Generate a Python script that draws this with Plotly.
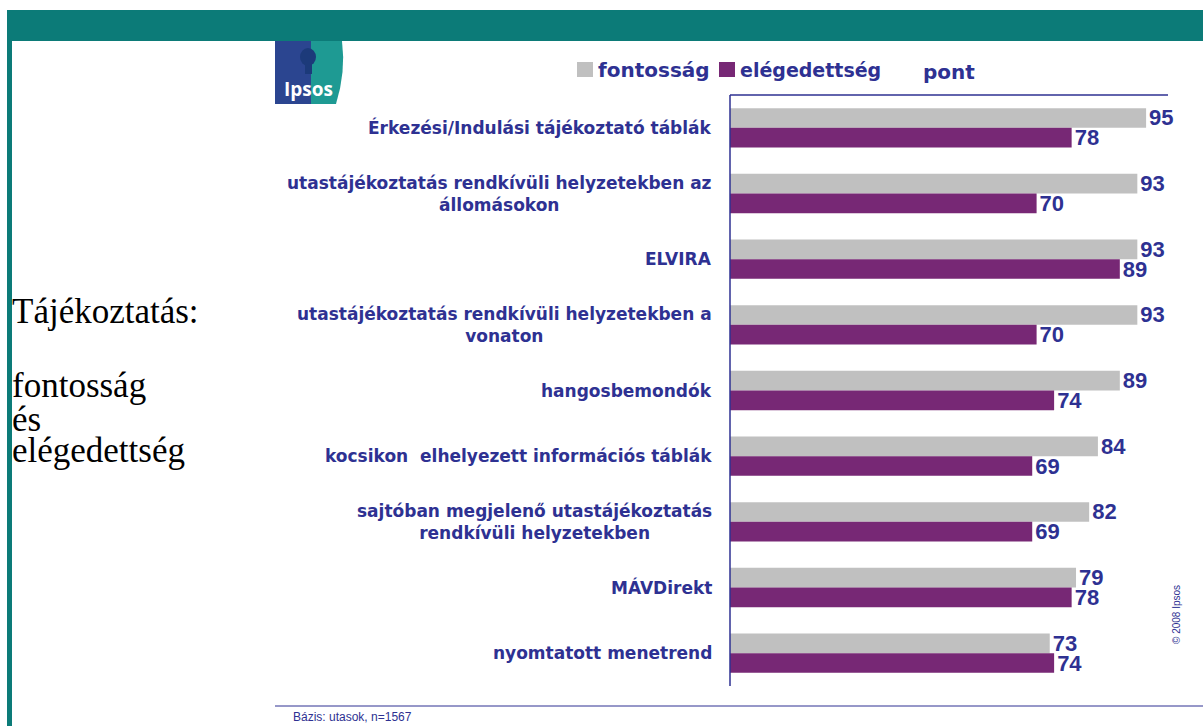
import plotly.graph_objects as go

categories = [
    "Érkezési/Indulási tájékoztató táblák",
    "utastájékoztatás rendkívüli helyzetekben az<br>állomásokon",
    "ELVIRA",
    "utastájékoztatás rendkívüli helyzetekben a<br>vonaton",
    "hangosbemondók",
    "kocsikon  elhelyezett információs táblák",
    "sajtóban megjelenő utastájékoztatás<br>rendkívüli helyzetekben",
    "MÁVDirekt",
    "nyomtatott menetrend",
]
fontossag = [95, 93, 93, 93, 89, 84, 82, 79, 73]
elegedettseg = [78, 70, 89, 70, 74, 69, 69, 78, 74]
series_names = ["fontosság", "elégedettség"]

W, H = 1203, 726
L, R, T, B = 730, 1168, 95, 686
BLUE = "#2E3192"
GRAY = "#C0C0C0"
PURPLE = "#772875"
TEAL = "#0C7B78"
FONT = "Liberation Sans, Arial, sans-serif"
WIDE = "DejaVu Sans, Verdana, sans-serif"
SERIF = "Liberation Serif, Times New Roman, serif"


def px(x):
    return (x - L) / (R - L)


def py(y):
    return (B - y) / (B - T)


fig = go.Figure()
fig.add_trace(go.Bar(
    y=categories, x=fontossag, name=series_names[0], orientation="h",
    marker=dict(color=GRAY, line=dict(width=0)),
    text=[str(v) for v in fontossag], textposition="outside",
    textfont=dict(family=FONT, size=22, color=BLUE, weight="bold"),
    constraintext="none", cliponaxis=False,
))
fig.add_trace(go.Bar(
    y=categories, x=elegedettseg, name=series_names[1], orientation="h",
    marker=dict(color=PURPLE, line=dict(width=0)),
    text=[str(v) for v in elegedettseg], textposition="outside",
    textfont=dict(family=FONT, size=22, color=BLUE, weight="bold"),
    constraintext="none", cliponaxis=False,
))

shapes = []
annotations = []

# teal frame
shapes.append(dict(type="rect", xref="paper", yref="paper", x0=px(7), x1=px(W + 5),
                   y0=py(41), y1=py(10), fillcolor=TEAL, line=dict(width=0), layer="below"))
shapes.append(dict(type="rect", xref="paper", yref="paper", x0=px(7), x1=px(12),
                   y0=py(H + 5), y1=py(10), fillcolor=TEAL, line=dict(width=0), layer="below"))
# axis lines
shapes.append(dict(type="line", xref="paper", yref="paper", x0=0, x1=1, y0=1, y1=1,
                   line=dict(color=BLUE, width=1.5)))
shapes.append(dict(type="line", xref="paper", yref="paper", x0=0, x1=0, y0=0, y1=1,
                   line=dict(color=BLUE, width=1.5)))
# bottom footer line
shapes.append(dict(type="line", xref="paper", yref="paper", x0=px(275), x1=px(W), y0=py(706), y1=py(706),
                   line=dict(color=BLUE, width=1)))

# Ipsos logo
shapes.append(dict(type="rect", xref="paper", yref="paper", x0=px(275), x1=px(312),
                   y0=py(104), y1=py(41), fillcolor="#2B4590", line=dict(width=0)))
logo_path = "M {a},{b} L {c},{b} Q {d},{e} {f},{g} L {h},{g} Z".format(
    a=px(311), b=py(41), c=px(342), d=px(346), e=py(72), f=px(336), g=py(104), h=px(311))
shapes.append(dict(type="path", xref="paper", yref="paper", path=logo_path,
                   fillcolor="#1E9A93", line=dict(width=0)))
# head silhouette
shapes.append(dict(type="circle", xref="paper", yref="paper", x0=px(300), x1=px(316),
                   y0=py(66), y1=py(48), fillcolor="#1C3A7A", line=dict(width=0)))
shapes.append(dict(type="rect", xref="paper", yref="paper", x0=px(305), x1=px(312),
                   y0=py(74), y1=py(64), fillcolor="#1C3A7A", line=dict(width=0)))
annotations.append(dict(text="Ipsos", xref="paper", yref="paper", x=px(308), y=py(89),
                        xanchor="center", yanchor="middle", showarrow=False,
                        font=dict(family="Open Sans, Liberation Sans, sans-serif", size=19, color="white", weight="bold")))

# legend
shapes.append(dict(type="rect", xref="paper", yref="paper", x0=px(577), x1=px(593), y0=py(77), y1=py(62),
                   fillcolor=GRAY, line=dict(width=0)))
shapes.append(dict(type="rect", xref="paper", yref="paper", x0=px(719), x1=px(735), y0=py(77), y1=py(62),
                   fillcolor=PURPLE, line=dict(width=0)))
annotations.append(dict(text=series_names[0], xref="paper", yref="paper", x=px(596), y=py(70),
                        xanchor="left", yanchor="middle", showarrow=False,
                        font=dict(family=WIDE, size=20, color=BLUE, weight="bold")))
annotations.append(dict(text=series_names[1], xref="paper", yref="paper", x=px(738), y=py(70),
                        xanchor="left", yanchor="middle", showarrow=False,
                        font=dict(family=WIDE, size=19, color=BLUE, weight="bold")))
annotations.append(dict(text="pont", xref="paper", yref="paper", x=px(921), y=py(72),
                        xanchor="left", yanchor="middle", showarrow=False,
                        font=dict(family=WIDE, size=20, color=BLUE, weight="bold")))

# category labels (centered multi-line blocks, right edge near axis)
for c in categories:
    annotations.append(dict(text="<b>" + c + "</b>", xref="paper", yref="y", x=0, y=c,
                            xanchor="right", yanchor="middle", xshift=-16, showarrow=False,
                            align="center",
                            font=dict(family=WIDE, size=17, color=BLUE)))

# left title text
left_lines = [("Tájékoztatás:", 311), ("fontosság", 385), ("és", 419), ("elégedettség", 450)]
for t, y in left_lines:
    annotations.append(dict(text=t, xref="paper", yref="paper", x=px(10), y=py(y),
                            xanchor="left", yanchor="middle", showarrow=False,
                            font=dict(family=SERIF, size=35, color="black")))

# footer
annotations.append(dict(text="Bázis: utasok, n=1567", xref="paper", yref="paper", x=px(291), y=py(717),
                        xanchor="left", yanchor="middle", showarrow=False,
                        font=dict(family=FONT, size=12, color=BLUE)))
annotations.append(dict(text="© 2008 Ipsos", xref="paper", yref="paper", x=px(1176), y=py(615),
                        xanchor="center", yanchor="middle", showarrow=False, textangle=-90,
                        font=dict(family=FONT, size=10, color=BLUE)))

fig.update_layout(
    width=W, height=H,
    margin=dict(l=L, r=W - R, t=T, b=H - B, pad=0),
    paper_bgcolor="white", plot_bgcolor="white",
    barmode="group", bargap=0.4, bargroupgap=0.0,
    showlegend=False,
    shapes=shapes, annotations=annotations,
    xaxis=dict(range=[0, 100], showgrid=False, zeroline=False, showticklabels=False,
               showline=False, ticks=""),
    yaxis=dict(autorange="reversed", showgrid=False, zeroline=False, showticklabels=False,
               showline=False, ticks=""),
    font=dict(family=FONT),
)

fig.write_html("out.html", config={"displayModeBar": False},
               post_script="document.body.style.margin='0';document.body.style.overflow='hidden';")
